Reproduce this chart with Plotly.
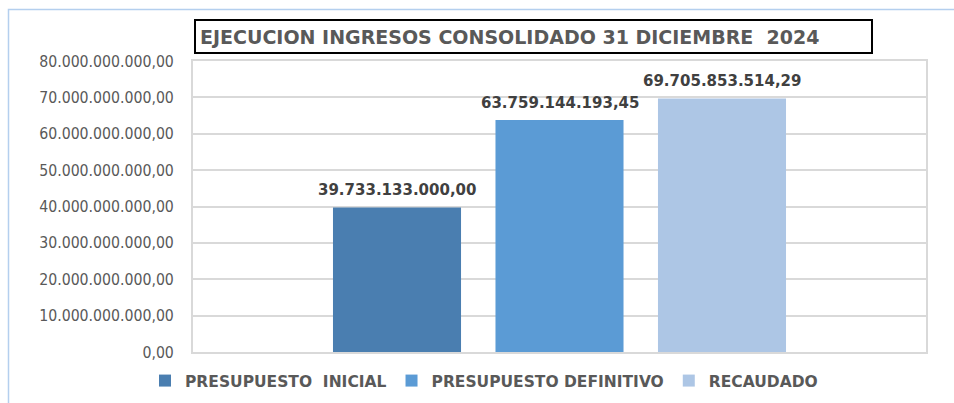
import plotly.graph_objects as go

# Series shown side by side
series = ["PRESUPUESTO  INICIAL", "PRESUPUESTO DEFINITIVO", "RECAUDADO"]
values = [39733133000.00, 63759144193.45, 69705853514.29]
labels = ["39.733.133.000,00", "63.759.144.193,45", "69.705.853.514,29"]
colors = ["#4a7eb0", "#5b9bd5", "#adc6e5"]
positions = [0, 1, 2]

title_text = "EJECUCION INGRESOS CONSOLIDADO 31 DICIEMBRE  2024"

BAR_WIDTH = 0.788

fig = go.Figure()
for name, pos, val, col in zip(series, positions, values, colors):
    fig.add_trace(go.Bar(
        name=name,
        x=[pos],
        y=[val],
        width=BAR_WIDTH,
        marker=dict(color=col, line=dict(width=0)),
        hovertemplate="%{y:,.2f}<extra>" + name + "</extra>",
    ))

# value labels above each bar
value_annotations = [
    dict(
        x=pos, y=val, text=lab, xref="x", yref="y",
        showarrow=False, xanchor="center", yanchor="bottom", yshift=6,
        font=dict(family="DejaVu Sans", size=15, color="#404040", weight="bold"),
    )
    for pos, val, lab in zip(positions, values, labels)
]

# pixel geometry of the plotting area
W, H = 954, 403
L, R, T, B = 193, 28, 61, 51
pw, ph = W - L - R, H - T - B

def px_x(x):
    return (x - L) / pw

def px_y(y):
    return (H - B - y) / ph

fig.update_layout(
    width=W, height=H,
    margin=dict(l=L, r=R, t=T, b=B, autoexpand=False),
    paper_bgcolor="white", plot_bgcolor="white",
    separators=",.",
    barmode="overlay",
    showlegend=True,
    legend=dict(
        orientation="h",
        x=px_x(484), xanchor="center",
        y=px_y(381), yanchor="middle",
        font=dict(family="DejaVu Sans", size=15.5, color="#595959", weight="bold"),
        itemwidth=30,
        traceorder="normal",
    ),
    xaxis=dict(
        range=[-1.2554, 3.2554],
        showline=True, mirror=True, linecolor="#d9d9d9", linewidth=2,
        showticklabels=False, ticks="", showgrid=False, zeroline=False,
    ),
    yaxis=dict(
        range=[0, 80e9], dtick=10e9, tickformat=",.2f",
        showgrid=True, gridcolor="#d9d9d9", gridwidth=2,
        showline=True, mirror=True, linecolor="#d9d9d9", linewidth=2,
        zeroline=False, ticks="",
        ticklabelstandoff=14,
        tickfont=dict(family="DejaVu Sans Condensed, DejaVu Sans", size=15.7, color="#595959"),
    ),
    shapes=[
        # outer chart frame
        dict(type="rect", xref="paper", yref="paper",
             x0=px_x(8.5), x1=px_x(1000), y0=px_y(450), y1=px_y(9.5),
             line=dict(color="#b4cfee", width=1.5), fillcolor="rgba(0,0,0,0)",
             layer="below"),
    ],
    annotations=value_annotations + [
        dict(
            text=title_text, showarrow=False,
            xref="paper", yref="paper",
            x=px_x(194), y=px_y(19), xanchor="left", yanchor="top",
            align="left", width=667, height=23,
            bordercolor="black", borderwidth=2, borderpad=4,
            bgcolor="white",
            font=dict(family="DejaVu Sans", size=19, color="#595959", weight="bold"),
        )
    ],
)

fig.write_html("out.html")
